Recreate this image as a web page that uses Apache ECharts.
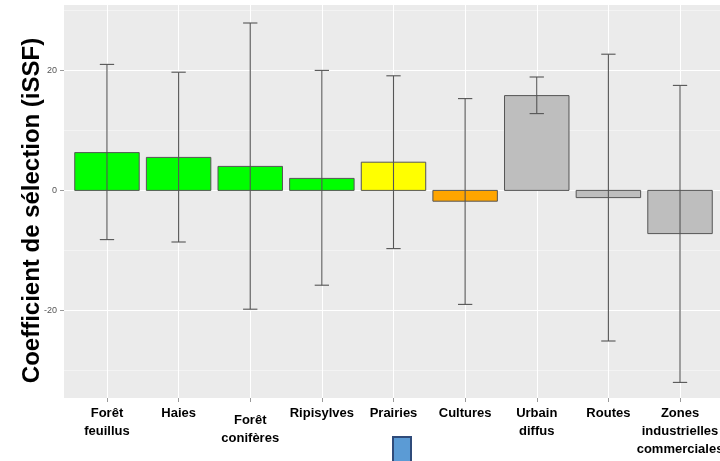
<!DOCTYPE html>
<html><head><meta charset="utf-8">
<script src="https://cdn.jsdelivr.net/npm/echarts@6/dist/echarts.min.js"></script>
<style>html,body{margin:0;padding:0;background:#fff}#c{width:720px;height:461px}</style>
</head><body><div id="c"></div>
<script>
const categories = ['Forêt\nfeuillus', 'Haies', 'Forêt\nconifères', 'Ripisylves', 'Prairies', 'Cultures', 'Urbain\ndiffus', 'Routes', 'Zones\nindustrielles\ncommerciales'];
const coefficients = [6.3, 5.5, 4.0, 2.0, 4.7, -1.8, 15.8, -1.2, -7.2];
const upperBounds = [21.0, 19.7, 27.9, 20.0, 19.1, 15.3, 18.9, 22.7, 17.5];
const lowerBounds = [-8.2, -8.6, -19.8, -15.8, -9.7, -19.0, 12.8, -25.1, -32.0];
const barColors = ['#00ff00', '#00ff00', '#00ff00', '#00ff00', '#ffff00', '#ffa500', '#bebebe', '#bebebe', '#bebebe'];
const yMajorTicks = [-20, 0, 20];
const yMinorTicks = [-30, -10, 10, 30];

const chart = echarts.init(document.getElementById('c'), null, {renderer: 'canvas'});
const xIdx = categories.map((_, i) => i);
const barData = coefficients.map((v, i) => [i, v]);
const errData = coefficients.map((v, i) => [i, lowerBounds[i], upperBounds[i]]);
const FONT = 'Liberation Sans, Arial, sans-serif';

const option = {
  animation: false,
  backgroundColor: '#ffffff',
  grid: {left: 64, top: 5, right: -3, bottom: 63, show: true, backgroundColor: '#ebebeb', borderWidth: 0,
    containLabel: false, outerBoundsMode: 'none'},
  xAxis: {
    type: 'value', min: -0.6, max: 8.6, splitNumber: 9, position: 'bottom',
    axisLine: {show: false, onZero: false},
    axisTick: {show: true, customValues: xIdx, length: 4, lineStyle: {color: '#999'}},
    axisLabel: {
      customValues: xIdx, margin: 6, hideOverlap: false,
      formatter: function (v) {
        const i = Math.round(v);
        if (i === 2) return '{sp| }\n' + categories[i];
        return categories[i];
      },
      fontFamily: FONT, fontSize: 13, fontWeight: 'bold', color: '#000', lineHeight: 18,
      rich: {sp: {fontSize: 1, lineHeight: 7}}
    },
    splitLine: {show: true, lineStyle: {color: '#ffffff', width: 1}}
  },
  yAxis: [{
    type: 'value', min: -34.6, max: 30.9, position: 'left',
    name: 'Coefficient de sélection (iSSF)', nameLocation: 'middle', nameGap: 20, nameMoveOverlap: false,
    nameTextStyle: {fontFamily: FONT, fontSize: 24, fontWeight: 'bold', color: '#000', padding: [0, 18, 0, 0]},
    axisLine: {show: false, onZero: false},
    axisTick: {show: true, customValues: yMajorTicks, length: 4, lineStyle: {color: '#999'}},
    axisLabel: {customValues: yMajorTicks, margin: 7, fontFamily: FONT, fontSize: 9, color: '#555'},
    splitLine: {show: true, lineStyle: {color: '#ffffff', width: 1.2}}
  }, {
    type: 'value', min: -34.6, max: 30.9, position: 'left',
    axisLine: {show: false, onZero: false},
    axisTick: {show: false, customValues: yMinorTicks},
    axisLabel: {show: false, customValues: yMinorTicks},
    splitLine: {show: true, lineStyle: {color: '#f7f7f7', width: 0.7}}
  }],
  series: [{
    type: 'custom', name: 'coef', yAxisIndex: 0,
    data: barData, encode: {x: 0, y: 1},
    renderItem: function (params, api) {
      const x = api.value(0), v = api.value(1);
      const p1 = api.coord([x - 0.45, Math.max(v, 0)]);
      const p2 = api.coord([x + 0.45, Math.min(v, 0)]);
      return {type: 'rect', shape: {x: p1[0], y: p1[1], width: p2[0] - p1[0], height: p2[1] - p1[1]},
        style: {fill: barColors[params.dataIndex], stroke: '#555', lineWidth: 1}};
    }
  }, {
    type: 'custom', name: 'err', yAxisIndex: 0,
    data: errData, encode: {x: 0, y: [1, 2]}, z: 5,
    renderItem: function (params, api) {
      const x = api.value(0);
      const lo = api.coord([x, api.value(1)]);
      const hi = api.coord([x, api.value(2)]);
      const hw = api.size([0.2, 0])[0] / 2;
      const st = {stroke: '#555', lineWidth: 1.1};
      return {type: 'group', children: [
        {type: 'line', shape: {x1: lo[0], y1: lo[1], x2: hi[0], y2: hi[1]}, style: st},
        {type: 'line', shape: {x1: lo[0] - hw, y1: lo[1], x2: lo[0] + hw, y2: lo[1]}, style: st},
        {type: 'line', shape: {x1: hi[0] - hw, y1: hi[1], x2: hi[0] + hw, y2: hi[1]}, style: st}
      ]};
    }
  }],
  graphic: [{type: 'rect', z: 100, shape: {x: 393, y: 437, width: 18, height: 30},
    style: {fill: '#5b9bd5', stroke: '#2f4b7a', lineWidth: 2}}]
};
chart.setOption(option);
</script>
</body></html>
